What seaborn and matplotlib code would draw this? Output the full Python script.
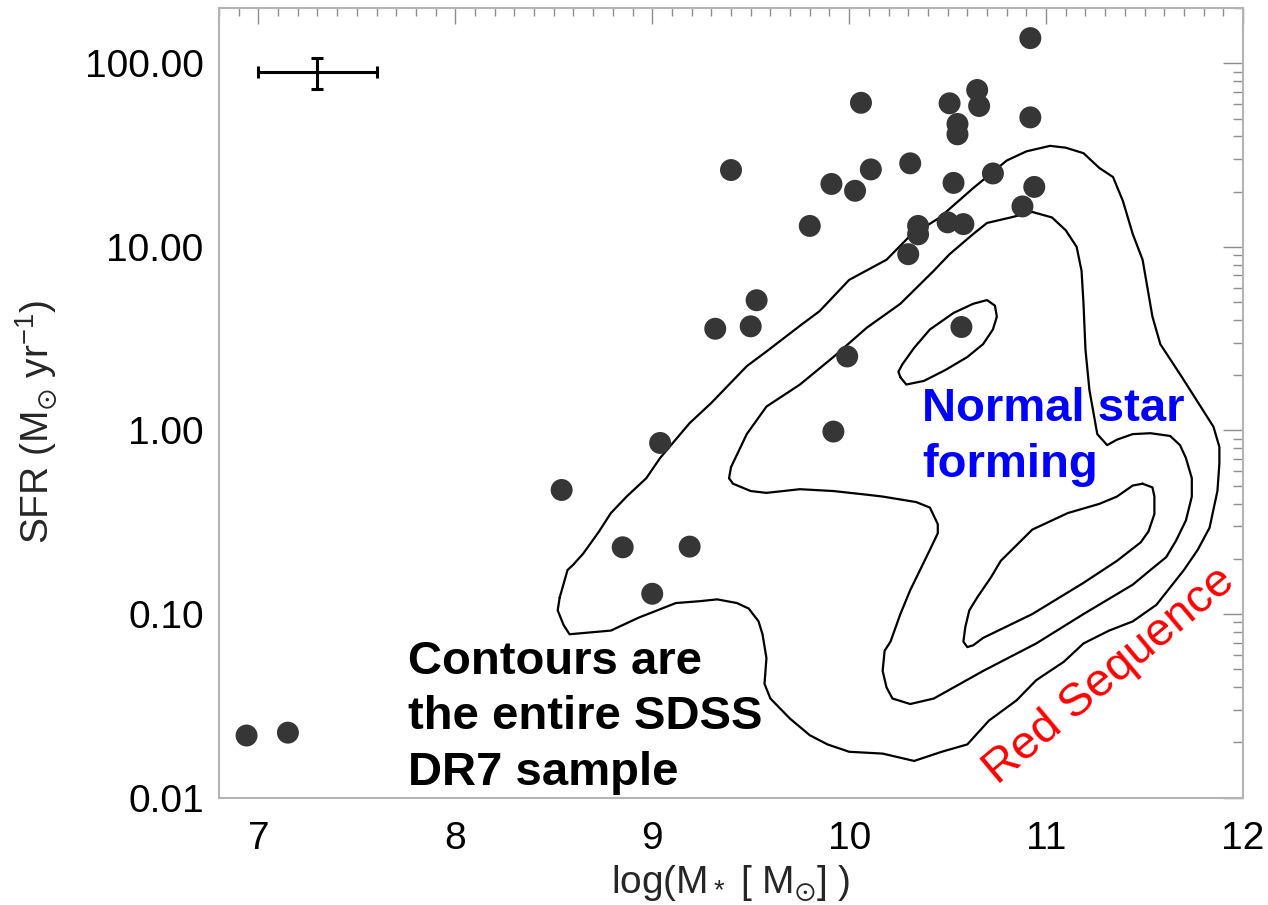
import matplotlib
matplotlib.use("Agg")
import matplotlib.pyplot as plt
import pandas as pd
import seaborn as sns
from matplotlib.ticker import (FixedLocator, FormatStrFormatter, LogLocator,
                               NullFormatter, MultipleLocator)

# ---------------- data ----------------
log_mstar = [6.94, 7.15, 8.54, 8.85, 9.00, 9.04, 9.19, 9.32, 9.40, 9.50,
             9.53, 9.80, 9.91, 9.99, 9.92, 10.03, 10.06, 10.11, 10.30, 10.31,
             10.35, 10.35, 10.50, 10.51, 10.53, 10.55, 10.55, 10.57, 10.58,
             10.65, 10.66, 10.73, 10.88, 10.92, 10.92, 10.94]
sfr = [0.0218, 0.0226, 0.474, 0.231, 0.129, 0.855, 0.233, 3.58, 26.2, 3.69,
       5.12, 13.0, 22.0, 2.53, 0.986, 20.2, 60.9, 26.4, 9.12, 28.5,
       13.0, 11.7, 13.6, 60.5, 22.3, 46.7, 41.0, 3.66, 13.3,
       71.5, 58.5, 25.1, 16.6, 137.0, 50.7, 21.2]

# SDSS DR7 density contours (log M*, log SFR)
outer_logm = [8.53, 8.57, 8.60, 8.65, 8.73, 8.79, 8.87, 8.97, 9.04, 9.19, 9.30,
              9.48, 9.58, 9.75, 9.85, 10.00, 10.19, 10.30, 10.46, 10.63, 10.80,
              10.90, 11.02, 11.10, 11.19, 11.27, 11.34, 11.39, 11.44, 11.49,
              11.54, 11.58, 11.69, 11.85, 11.88, 11.88, 11.87, 11.83, 11.77,
              11.70, 11.56, 11.44, 11.32, 11.19, 11.09, 10.95, 10.85, 10.71,
              10.60, 10.47, 10.33, 10.17, 10.00, 9.89, 9.80, 9.70, 9.60, 9.57,
              9.58, 9.56, 9.54, 9.49, 9.43, 9.33, 9.24, 9.12, 8.93, 8.79, 8.58,
              8.55, 8.52]
outer_logsfr = [-0.91, -0.76, -0.73, -0.67, -0.55, -0.45, -0.36, -0.26, -0.15,
                0.04, 0.15, 0.35, 0.43, 0.57, 0.65, 0.82, 0.93, 1.05, 1.16, 1.32,
                1.47, 1.52, 1.55, 1.54, 1.51, 1.43, 1.38, 1.25, 1.07, 0.93,
                0.62, 0.47, 0.29, 0.02, -0.09, -0.18, -0.33, -0.53, -0.65,
                -0.76, -0.95, -1.04, -1.09, -1.16, -1.26, -1.36, -1.47, -1.58,
                -1.71, -1.75, -1.80, -1.76, -1.75, -1.71, -1.66, -1.57, -1.46,
                -1.38, -1.24, -1.11, -1.04, -0.97, -0.94, -0.92, -0.93, -0.94,
                -1.02, -1.09, -1.11, -1.06, -0.98]

middle_logm = [9.39, 9.40, 9.44, 9.48, 9.58, 9.75, 9.92, 10.09, 10.26, 10.43,
               10.51, 10.63, 10.70, 10.82, 10.93, 11.03, 11.10, 11.155, 11.18,
               11.19, 11.20, 11.22, 11.26, 11.31, 11.36, 11.44, 11.53, 11.63,
               11.68, 11.71, 11.74, 11.74, 11.71, 11.66, 11.61, 11.53, 11.44,
               11.19, 10.95, 10.68, 10.43, 10.31, 10.22, 10.19, 10.17, 10.18,
               10.21, 10.26, 10.31, 10.41, 10.45, 10.45, 10.41, 10.34, 10.17,
               10.09, 9.92, 9.75, 9.58, 9.50, 9.41]
middle_logsfr = [-0.26, -0.20, -0.11, -0.02, 0.13, 0.25, 0.40, 0.56, 0.69, 0.87,
                 0.96, 1.07, 1.13, 1.16, 1.19, 1.16, 1.09, 1.00, 0.87,
                 0.69, 0.44, 0.22, -0.02, -0.08, -0.05, -0.02, -0.015, -0.03,
                 -0.08, -0.15, -0.26, -0.36, -0.49, -0.60, -0.69, -0.76, -0.84,
                 -1.00, -1.16, -1.31, -1.46, -1.49, -1.46, -1.40, -1.31, -1.20,
                 -1.15, -1.00, -0.87, -0.65, -0.56, -0.51, -0.42, -0.39, -0.36,
                 -0.35, -0.33, -0.32, -0.34, -0.33, -0.29]

inner1_logm = [10.26, 10.25, 10.27, 10.33, 10.41, 10.53, 10.63, 10.70, 10.74,
               10.75, 10.73, 10.68, 10.60, 10.49, 10.38, 10.29]
inner1_logsfr = [0.29, 0.32, 0.36, 0.45, 0.55, 0.64, 0.69, 0.71, 0.68,
                 0.62, 0.55, 0.47, 0.40, 0.33, 0.27, 0.25]

inner2_logm = [11.49, 11.54, 11.55, 11.55, 11.52, 11.48, 11.36, 11.19, 10.93,
               10.68, 10.63, 10.60, 10.58, 10.59, 10.61, 10.65, 10.72, 10.77,
               10.93, 11.11, 11.27, 11.36, 11.44]
inner2_logsfr = [-0.29, -0.31, -0.36, -0.455, -0.55, -0.61, -0.71, -0.83, -1.00,
                 -1.13, -1.17, -1.18, -1.15, -1.07, -0.98, -0.91, -0.80, -0.71,
                 -0.54, -0.45, -0.40, -0.36, -0.30]

# typical error bar
err_logm = [7.30]
err_sfr = [90.0]
err_logm_err = [0.30]
err_sfr_lo = [18.0]
err_sfr_hi = [17.3]

ytick_values = [0.01, 0.1, 1, 10, 100]

# ---------------- styling ----------------
sns.set_theme(style="white")
plt.rcParams['font.family'] = ['Liberation Sans', 'DejaVu Sans']
plt.rcParams['mathtext.fontset'] = 'custom'
plt.rcParams['mathtext.rm'] = 'Liberation Sans'
plt.rcParams['mathtext.it'] = 'Liberation Sans:italic'
plt.rcParams['mathtext.bf'] = 'Liberation Sans:bold'
plt.rcParams['mathtext.sf'] = 'Liberation Sans'
plt.rcParams['mathtext.fallback'] = 'stixsans'

fig = plt.figure(figsize=(12.68, 9.05), dpi=100)
ax = fig.add_axes([0.1727, 0.1186, 0.8076, 0.8726])
ax.set_yscale('log')

contours = [(outer_logm, outer_logsfr), (middle_logm, middle_logsfr),
            (inner1_logm, inner1_logsfr), (inner2_logm, inner2_logsfr)]
for xs, ls in contours:
    xc = list(xs) + [xs[0]]
    yc = [10 ** v for v in list(ls) + [ls[0]]]
    df = pd.DataFrame({'logm': xc, 'sfr': yc})
    sns.lineplot(data=df, x='logm', y='sfr', sort=False, estimator=None,
                 color='black', linewidth=1.6, ax=ax, zorder=2)

sns.scatterplot(x=log_mstar, y=sfr, s=250, color='#363636', edgecolor='none',
                linewidth=0, ax=ax, zorder=3)

ax.errorbar(err_logm, err_sfr, xerr=err_logm_err, yerr=[err_sfr_lo, err_sfr_hi],
            fmt='none', ecolor='black', elinewidth=2.2, capsize=4.5, capthick=2.2,
            zorder=4)

ax.set_xlim(6.8, 12.0)
ax.set_ylim(0.01, 200)

ax.xaxis.set_major_locator(MultipleLocator(1))
ax.xaxis.set_minor_locator(MultipleLocator(0.1))
ax.yaxis.set_major_locator(FixedLocator(ytick_values))
ax.yaxis.set_major_formatter(FormatStrFormatter('%.2f'))
ax.yaxis.set_minor_locator(LogLocator(base=10, subs=range(2, 10)))
ax.yaxis.set_minor_formatter(NullFormatter())

ax.tick_params(axis='both', which='both', direction='in', top=True, right=True,
               color='#8c8c8c', width=1.0, labelcolor='black')
ax.tick_params(axis='x', which='major', length=11.5, pad=17, labelsize=28)
ax.tick_params(axis='x', which='minor', length=5.8)
ax.tick_params(axis='y', which='major', length=14.4, pad=11, labelsize=28)
ax.tick_params(axis='y', which='minor', length=7.2)

for sp in ax.spines.values():
    sp.set_color('#b4b4b4')
    sp.set_linewidth(1.5)

ax.set_xlabel(r"log(M$_*$ [ M$_{\odot}$] )", fontsize=28, labelpad=5)
ax.set_ylabel(r"SFR (M$_{\odot}$ yr$^{-1}$)", fontsize=28)
ax.yaxis.set_label_coords(-0.155, 0.476)

# multi-line text: va='baseline' anchors the last line's baseline
ax.text(0.1846, 0.016, "Contours are\nthe entire SDSS\nDR7 sample",
        transform=ax.transAxes, fontsize=34, fontweight='bold', color='black',
        ha='left', va='baseline', linespacing=1.34)
ax.text(0.6865, 0.406, "Normal star\nforming", transform=ax.transAxes,
        fontsize=34, fontweight='bold', color='#0000ff', ha='left',
        va='baseline', linespacing=1.34)
ax.text(0.870, 0.154, "Red Sequence", transform=ax.transAxes, fontsize=34,
        color='#ff0000', rotation=40, ha='center', va='center',
        rotation_mode='anchor')

fig.savefig('out.png', dpi=100)
